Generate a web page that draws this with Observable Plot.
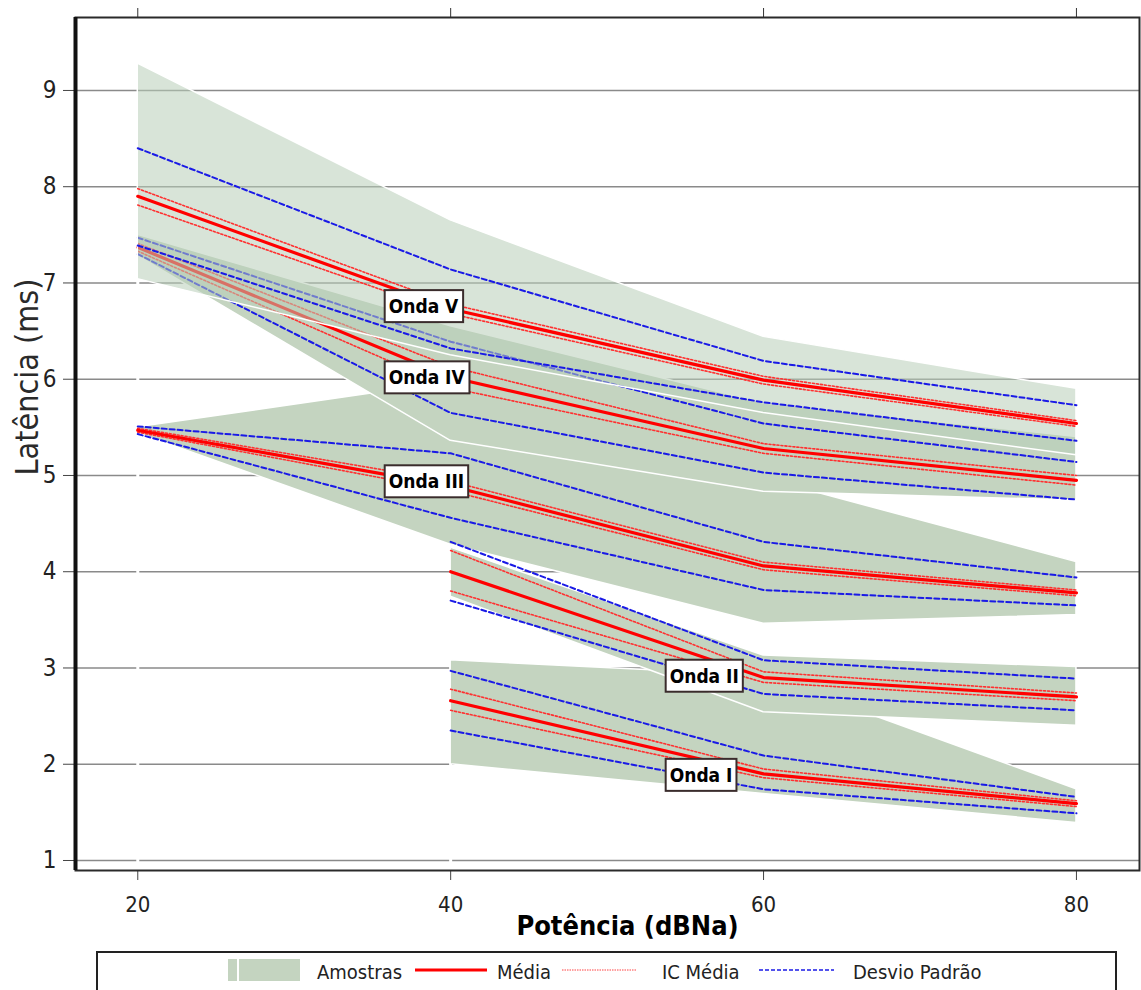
<!DOCTYPE html>
<html>
<head>
<meta charset="utf-8">
<script src="https://cdn.jsdelivr.net/npm/d3@7"></script>
<script src="https://cdn.jsdelivr.net/npm/@observablehq/plot@0.6"></script>
<style>
  body { margin: 0; background: #fff; }
  #chart, #legend { width: 1141px; }
  #legend { height: 39px; }
</style>
</head>
<body>
<div id="chart"></div>
<div id="legend"></div>
<script>
// ---------- data ----------
const pot20 = [20, 40, 60, 80];
const pot40 = [40, 60, 80];
const yTicks = [1, 2, 3, 4, 5, 6, 7, 8, 9];

// Onda V
const vMax  = [9.28, 7.65, 6.44, 5.90];
const vMin  = [7.04, 6.25, 5.65, 5.21];
const vSdUp = [8.40, 7.14, 6.19, 5.73];
const vIcUp = [7.98, 6.78, 6.03, 5.57];
const vMean = [7.90, 6.73, 5.99, 5.54];
const vIcLo = [7.81, 6.68, 5.95, 5.51];
const vSdLo = [7.39, 6.32, 5.76, 5.36];

// Onda IV
const ivMax  = [7.50, 6.55, 5.75, 5.40];
const ivMin  = [7.28, 5.36, 4.83, 4.74];
const ivSdUp = [7.47, 6.39, 5.54, 5.14];
const ivIcUp = [7.41, 6.13, 5.33, 5.00];
const ivMean = [7.37, 6.02, 5.28, 4.95];
const ivIcLo = [7.33, 5.91, 5.23, 4.90];
const ivSdLo = [7.30, 5.65, 5.03, 4.75];

// Onda III
const iiiMax  = [5.50, 5.97, 4.97, 4.10];
const iiiMin  = [5.44, 4.28, 3.46, 3.55];
const iiiSdUp = [5.51, 5.23, 4.31, 3.94];
const iiiIcUp = [5.49, 4.94, 4.10, 3.81];
const iiiMean = [5.47, 4.89, 4.06, 3.78];
const iiiIcLo = [5.45, 4.84, 4.02, 3.75];
const iiiSdLo = [5.43, 4.56, 3.81, 3.65];

// Onda II
const iiMax  = [4.25, 3.13, 3.01];
const iiMin  = [3.74, 2.54, 2.40];
const iiSdUp = [4.31, 3.08, 2.89];
const iiIcUp = [4.22, 2.96, 2.74];
const iiMean = [4.00, 2.90, 2.70];
const iiIcLo = [3.80, 2.85, 2.66];
const iiSdLo = [3.70, 2.73, 2.56];

// Onda I
const iMax  = [3.08, 2.92, 1.74];
const iMin  = [2.00, 1.69, 1.39];
const iSdUp = [2.97, 2.09, 1.66];
const iIcUp = [2.78, 1.95, 1.62];
const iMean = [2.66, 1.90, 1.59];
const iIcLo = [2.56, 1.86, 1.56];
const iSdLo = [2.35, 1.74, 1.49];

// wave labels
const waveNames = ["Onda V", "Onda IV", "Onda III", "Onda II", "Onda I"];
const labelPot  = [35.72, 35.72, 35.72, 53.68, 53.68];
const labelLat  = [6.75, 6.01, 4.93, 2.91, 1.88];

const legendLabels = ["Amostras", "Média", "IC Média", "Desvio Padrão"];

// ---------- styles ----------
const xDom = [16.02, 84.03];
const yDom = [0.896, 9.758];
const DARK = "#c4d4c0";
const MEAN = {stroke: "#ff0000", strokeWidth: 3.2};
const IC   = {stroke: "#ff3030", strokeWidth: 1.6, strokeDasharray: "2,2"};
const SD   = {stroke: "#1a1ae6", strokeWidth: 2, strokeDasharray: "5,3"};
const COND = "'DejaVu Sans Condensed', 'DejaVu Sans', sans-serif";

function band(pot, lo, hi, opts) {
  return Plot.areaY(pot.map((p, i) => ({p, lo: lo[i], hi: hi[i]})),
    {x: "p", y1: "lo", y2: "hi", stroke: "white", strokeWidth: 1.5, ...opts});
}
function ln(pot, vals, opts) {
  return Plot.line(pot.map((p, i) => ({p, v: vals[i]})), {x: "p", y: "v", ...opts});
}
function waveLines(pot, sdUp, icUp, mean, icLo, sdLo) {
  return [ln(pot, sdUp, SD), ln(pot, sdLo, SD), ln(pot, icUp, IC), ln(pot, icLo, IC), ln(pot, mean, MEAN)];
}

const labels = waveNames.map((n, i) => ({name: n, p: labelPot[i], lat: labelLat[i]}));

const svg = Plot.plot({
  width: 1141,
  height: 951,
  marginLeft: 75,
  marginRight: 2,
  marginTop: 17,
  marginBottom: 81,
  x: {domain: xDom},
  y: {domain: yDom},
  style: {fontFamily: COND, fontStretch: "condensed", color: "#222", background: "white"},
  marks: [
    Plot.ruleY(yTicks, {stroke: "#8a8a8a", strokeWidth: 1.6}),
    Plot.ruleX([{x: pot20[0], y1: yDom[0], y2: vMin[0]}, {x: pot40[0], y1: yDom[0], y2: iiMax[0]}],
      {x: "x", y1: "y1", y2: "y2", stroke: "white", strokeWidth: 3}),
    // sample bands
    band(pot40, iMin, iMax, {fill: DARK}),
    band(pot40, iiMin, iiMax, {fill: DARK}),
    band(pot20, iiiMin, iiiMax, {fill: DARK}),
    band(pot20, ivMin, ivMax, {fill: DARK}),
    // lines
    ...waveLines(pot40, iSdUp, iIcUp, iMean, iIcLo, iSdLo),
    ...waveLines(pot40, iiSdUp, iiIcUp, iiMean, iiIcLo, iiSdLo),
    ...waveLines(pot20, iiiSdUp, iiiIcUp, iiiMean, iiiIcLo, iiiSdLo),
    ...waveLines(pot20, ivSdUp, ivIcUp, ivMean, ivIcLo, ivSdLo),
    band(pot20, vMin, vMax, {fill: "#b8ceb8", fillOpacity: 0.55}),
    ...waveLines(pot20, vSdUp, vIcUp, vMean, vIcLo, vSdLo),
    // wave labels
    Plot.text(labels, {x: "p", y: "lat", text: "name", textAnchor: "start", lineAnchor: "middle", dx: 5,
      fontSize: 19, fontWeight: "bold", fill: "#000", fontFamily: COND}),
    // axes
    Plot.axisX(pot20, {anchor: "bottom", tickSize: 10, tickPadding: 16, fontSize: 22,
      label: null, stroke: "#444", fill: "#222"}),
    Plot.axisX(pot20, {anchor: "top", tickSize: 10, tickFormat: () => "", label: null, stroke: "#333"}),
    Plot.axisY(yTicks, {anchor: "left", tickSize: 12, tickPadding: 7, fontSize: 24,
      tickFormat: d3.format("d"), label: null, stroke: "#444", fill: "#222"}),
    Plot.frame({stroke: "#2a2a2a", strokeWidth: 2}),
    Plot.ruleX([xDom[0]], {stroke: "#111", strokeWidth: 4}),
    // axis titles
    Plot.text(["Latência (ms)"], {frameAnchor: "left", textAnchor: "middle", lineAnchor: "middle",
      dx: -48, dy: -67, rotate: -90,
      fontSize: 32, fill: "#2a2a2a", fontFamily: "'DejaVu Sans', sans-serif", fontStretch: "normal"}),
    Plot.text(["Potência (dBNa)"], {frameAnchor: "bottom", textAnchor: "middle", lineAnchor: "middle",
      dx: 20, dy: 56, fontSize: 27,
      fontWeight: "bold", fill: "#000", fontFamily: "'DejaVu Sans', sans-serif", fontStretch: "normal"})
  ]
});
document.getElementById("chart").appendChild(svg);

// boxes behind wave labels
const NS = "http://www.w3.org/2000/svg";
svg.querySelectorAll("text").forEach(t => {
  if (!waveNames.includes(t.textContent)) return;
  const b = t.getBBox();
  const r = document.createElementNS(NS, "rect");
  r.setAttribute("x", b.x - 4);
  r.setAttribute("y", b.y - 5);
  r.setAttribute("width", b.width + 8);
  r.setAttribute("height", b.height + 10);
  r.setAttribute("fill", "white");
  r.setAttribute("stroke", "#3a2c2c");
  r.setAttribute("stroke-width", 2);
  if (t.getAttribute("transform")) r.setAttribute("transform", t.getAttribute("transform"));
  t.parentNode.insertBefore(r, t);
});

// legend (below the chart)
const lg = d3.select("#legend").append("svg").attr("width", 1141).attr("height", 39)
  .style("display", "block").style("font-family", COND).style("font-stretch", "condensed");
lg.append("rect").attr("x", 97).attr("y", 1).attr("width", 1019).attr("height", 60)
  .attr("fill", "none").attr("stroke", "#222").attr("stroke-width", 2);
lg.append("rect").attr("x", 228).attr("y", 8).attr("width", 9).attr("height", 22).attr("fill", DARK);
lg.append("rect").attr("x", 239).attr("y", 8).attr("width", 61).attr("height", 22).attr("fill", DARK);
lg.append("line").attr("x1", 415).attr("x2", 487).attr("y1", 19).attr("y2", 19)
  .attr("stroke", "#ff0000").attr("stroke-width", 3);
lg.append("line").attr("x1", 562).attr("x2", 637).attr("y1", 19).attr("y2", 19)
  .attr("stroke", "#ff4040").attr("stroke-width", 1).attr("stroke-dasharray", "1.5,1");
lg.append("line").attr("x1", 759).attr("x2", 834).attr("y1", 19).attr("y2", 19)
  .attr("stroke", "#1a1ae6").attr("stroke-width", 1.5).attr("stroke-dasharray", "4,2");
const lx = [317, 497, 662, 853];
legendLabels.forEach((s, i) => {
  lg.append("text").attr("x", lx[i]).attr("y", 28).attr("font-size", 20).attr("fill", "#222").text(s);
});
</script>
</body>
</html>
